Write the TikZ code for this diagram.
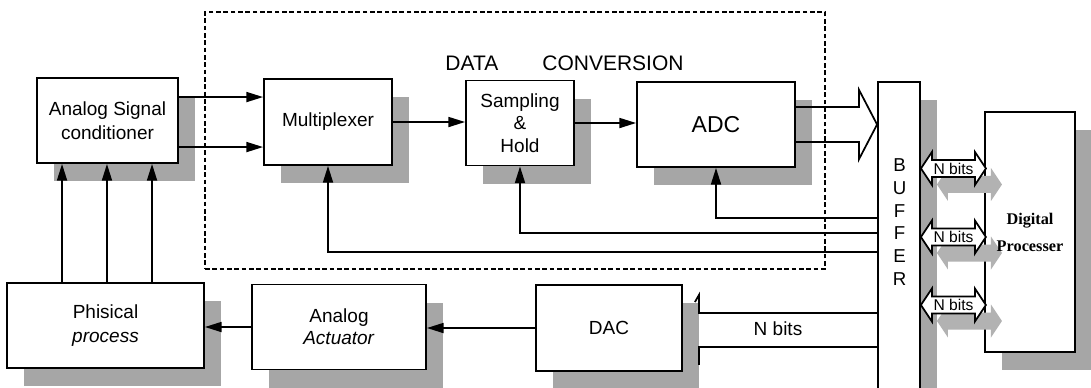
\documentclass[tikz,border=0pt]{standalone}
\usepackage{fontspec}
\setmainfont{Liberation Sans}
\newfontfamily\serifb{Liberation Serif}
\usetikzlibrary{arrows.meta,shadows}
\newdimen\pxu \pxu=0.75pt
\begin{document}
\begin{tikzpicture}[x=0.75pt,y=-0.75pt,
  box/.style 2 args={draw, fill=white, line width=1.4pt, minimum width=#1\pxu, minimum height=#2\pxu,
    inner sep=0pt, align=center, font=\fontsize{14.25}{18}\selectfont,
    drop shadow={shadow xshift=12.75pt, shadow yshift=-13.5pt, fill=black!35, opacity=1}},
  arr/.style={line width=1.3pt, -{Triangle[length=12.5pt,width=7.5pt]}},
  wire/.style={line width=1.3pt},
  dashbox/.style={draw, dash pattern=on 3.5pt off 2pt, line width=1.1pt, inner sep=0pt},
  dbl/.style={line width=1.3pt, fill=white, line join=miter},
  dblsh/.style={fill=black!30},
  dblpath/.style={insert path={-- ++(11,-16.5) -- ++(0,8) -- ++(43,0) -- ++(0,-8) -- ++(11,16.5) -- ++(-11,16.5) -- ++(0,-8) -- ++(-43,0) -- ++(0,8) -- cycle}},
  lbl/.style={inner sep=0pt, align=center}
]
\useasboundingbox (0,0) rectangle (1091,387);
\clip (0,0) rectangle (1091,387);
\fill[white] (0,0) rectangle (1091,387);

% data conversion group
\node[dashbox, minimum width=620\pxu, minimum height=257\pxu] (dcb) at (515,140.5) {};
\node[lbl, font=\fontsize{15.75}{18}\selectfont] (dct) at (564.5,63) {DATA\hspace{33pt}CONVERSION};

% blocks
\node[box={141}{85}] (asc) at (107.5,120.5) {Analog Signal\\conditioner};
\node[box={128}{86}] (mux) at (328,122) {Multiplexer};
\node[box={108}{85}, font=\fontsize{14.25}{16.9}\selectfont] (sh) at (520,123) {Sampling\\\&\\Hold};
\node[box={158}{85}, font=\fontsize{17.25}{20}\selectfont] (adc) at (716,124.5) {ADC};
\node[box={42}{318}] (buf) at (899,241) {};
\node[lbl, font=\fontsize{14}{17.1}\selectfont] (buftxt) at (899.5,222) {B\\U\\F\\F\\E\\R};
\node[box={90}{240}] (dp) at (1030,232) {};
\node[box={197}{85}] (pp) at (105.5,325.5) {Phisical\\\textit{process}};
\node[box={174}{85}, font=\fontsize{14.25}{16.5}\selectfont] (aa) at (339,327) {Analog\\\textit{Actuator}};
\node[box={146}{86}] (dac) at (609,328) {DAC};

% forward path
\coordinate (a1) at ([yshift=17.6pt]asc.east);
\coordinate (a2) at ([yshift=-19.9pt]asc.east);
\draw[arr] (a1) -- (a1 -| mux.west);
\draw[arr] (a2) -- (a2 -| mux.west);
\draw[arr] (mux.east) -- (mux.east -| sh.west);
\draw[arr] (sh.east) -- (sh.east -| adc.west);

% hollow arrow ADC -> buffer
\coordinate (tip) at (adc.east -| buf.west);
\draw[wire, line join=miter] ([yshift=13.1pt]adc.east) -- ([xshift=-13.5pt,yshift=13.1pt]tip)
  -- ([xshift=-13.5pt,yshift=25.9pt]tip) -- (tip) -- ([xshift=-13.5pt,yshift=-25.9pt]tip)
  -- ([xshift=-13.5pt,yshift=-13.1pt]tip) -- ([yshift=-13.1pt]adc.east);

% control lines from buffer
\coordinate (f1) at ([yshift=17.25pt]buf.west);
\coordinate (f2) at ([yshift=6pt]buf.west);
\coordinate (f3) at ([yshift=-8.25pt]buf.west);
\draw[arr] (f1) -| (adc.south);
\draw[arr] (f2) -| (sh.south);
\draw[arr] (f3) -| (mux.south);

% physical process -> conditioner
\coordinate (v1) at ([xshift=-34.1pt]asc.south);
\coordinate (v2) at ([xshift=-0.4pt]asc.south);
\coordinate (v3) at ([xshift=33.4pt]asc.south);
\draw[arr] (v1 |- pp.north) -- (v1);
\draw[arr] (v2 |- pp.north) -- (v2);
\draw[arr] (v3 |- pp.north) -- (v3);

% output path
\draw[arr] (aa.west) -- (aa.west -| pp.east);
\draw[arr] (dac.west) -- (dac.west -| aa.east);

% N bits into DAC
\coordinate (n1) at ([xshift=12pt,yshift=11.25pt]dac.east);
\coordinate (n2) at ([xshift=12pt,yshift=-14.25pt]dac.east);
\draw[wire, line join=miter] (n1 -| buf.west) -- (n1) -- ++(0,-18) -- ++(-4,7);
\draw[wire] (n2 -| buf.west) -- (n2) -- ++(0,18);
\node[lbl, font=\fontsize{14.25}{17}\selectfont] (nbl) at (778,329) {N bits};

% N bits buses buffer <-> processor
\coordinate (d1) at ([yshift=54.4pt]buf.east);
\coordinate (d2) at ([yshift=3pt]buf.east);
\coordinate (d3) at ([yshift=-48pt]buf.east);
\fill[dblsh] ([shift={(16,16)}]d1) [dblpath];
\fill[dblsh] ([shift={(16,16)}]d2) [dblpath];
\fill[dblsh] ([shift={(16,16)}]d3) [dblpath];
\draw[dbl] (d1) [dblpath];
\draw[dbl] (d2) [dblpath];
\draw[dbl] (d3) [dblpath];
\node[lbl, font=\fontsize{11.7}{13}\selectfont] (t1) at ([xshift=24.4pt]d1) {N bits};
\node[lbl, font=\fontsize{11.7}{13}\selectfont] (t2) at ([xshift=24.4pt]d2) {N bits};
\node[lbl, font=\fontsize{11.7}{13}\selectfont] (t3) at ([xshift=24.4pt]d3) {N bits};

\node[lbl, font=\serifb\bfseries\fontsize{12.2}{20.25}\selectfont] (dptxt) at (dp.center) {Digital\\Processer};
\end{tikzpicture}
\end{document}
